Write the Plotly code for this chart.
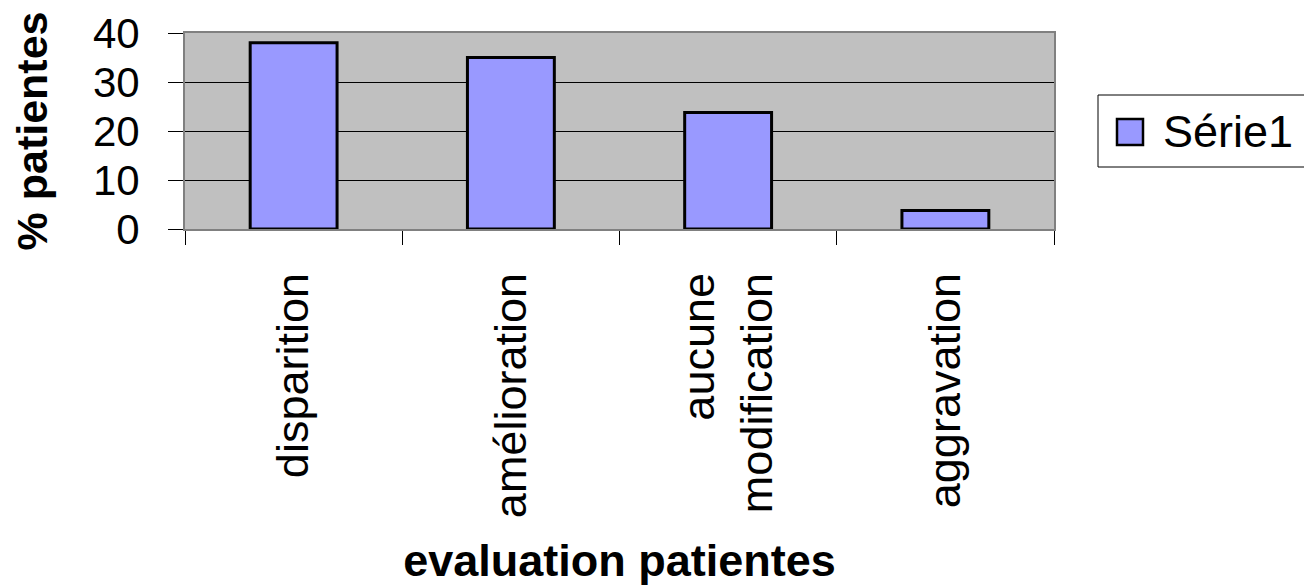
import plotly.graph_objects as go

categories = ["disparition", "amélioration", "aucune<br>modification", "aggravation"]
values = [38, 35, 23.8, 3.8]
series_name = "Série1"
y_ticks = [0, 10, 20, 30, 40]

# page is drawn with an 8px body offset
OFF = 8
W, H = 1312 - OFF, 587 - OFF
ML, MT = 185 - OFF, 33 - OFF
PW, PH = 869, 196
MR = W - ML - PW
MB = H - MT - PH

def px_x(x):
    return (x - OFF - ML) / PW

def px_y(y):
    return (MT + PH - (y - OFF)) / PH

FONT = "Liberation Sans, Arial, sans-serif"

fig = go.Figure()
fig.add_trace(go.Bar(
    x=categories, y=values, name=series_name,
    width=0.4,
    marker=dict(color="#9999FF", line=dict(color="black", width=3)),
    showlegend=False,
))

fig.update_layout(
    width=W, height=H,
    margin=dict(l=ML, r=MR, t=MT, b=MB, autoexpand=False),
    paper_bgcolor="white",
    plot_bgcolor="#C0C0C0",
    font=dict(family=FONT, color="black"),
    bargap=0.6,
)

fig.update_xaxes(
    type="category",
    tickson="boundaries",
    ticks="outside", ticklen=14, tickcolor="black", tickwidth=1,
    tickangle=-90,
    tickfont=dict(size=45, family=FONT),
    showline=True, linecolor="#808080", linewidth=2, mirror=True,
    showgrid=False,
    title=dict(text="<b>evaluation patientes</b>", font=dict(size=45, family=FONT), standoff=27),
    automargin=False,
    ticklabelstandoff=24,
)

fig.update_yaxes(
    range=[0, 40],
    tickvals=y_ticks,
    ticks="outside", ticklen=15, tickcolor="black", tickwidth=1,
    tickfont=dict(size=42, family=FONT),
    showline=True, linecolor="#808080", linewidth=2, mirror=True,
    showgrid=True, gridcolor="black", gridwidth=1,
    zeroline=False,
    title=dict(text="<b>% patientes</b>", font=dict(size=43, family=FONT), standoff=38),
    automargin=False,
    ticklabelstandoff=20,
)

# manual legend
fig.add_shape(type="rect", xref="paper", yref="paper",
              x0=px_x(1098), x1=px_x(1309), y0=px_y(167), y1=px_y(95),
              line=dict(color="black", width=1), fillcolor="white")
fig.add_shape(type="rect", xref="paper", yref="paper",
              x0=px_x(1117), x1=px_x(1143), y0=px_y(145), y1=px_y(119),
              line=dict(color="black", width=2.5), fillcolor="#9999FF")
fig.add_annotation(xref="paper", yref="paper", x=px_x(1161), y=px_y(131),
                   text=series_name, showarrow=False, xanchor="left", yanchor="middle",
                   font=dict(size=45, family=FONT, color="black"))

fig.write_html("out.html")
